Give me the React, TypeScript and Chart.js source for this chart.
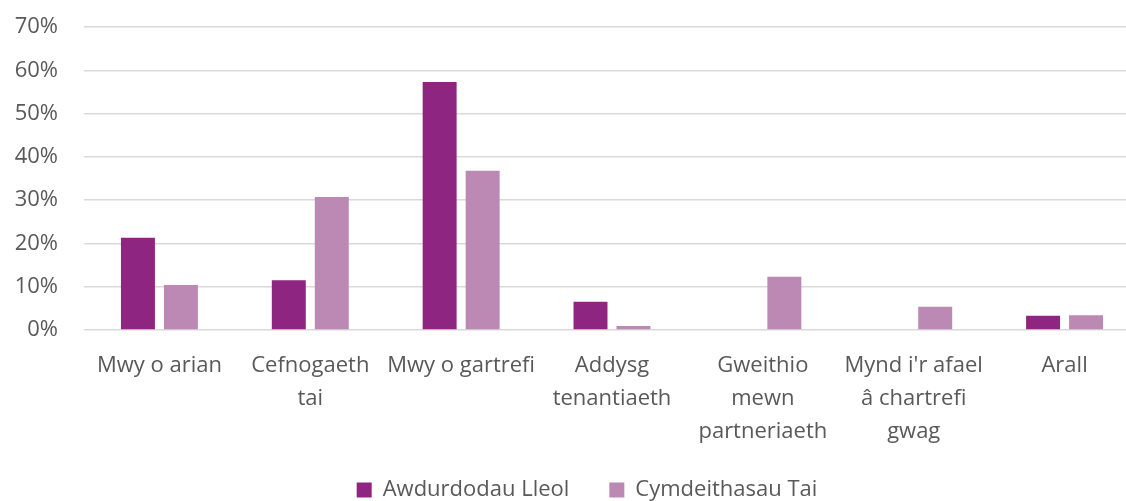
import React, { useEffect, useRef } from "react";
import { Chart, registerables } from "chart.js";

Chart.register(...registerables);

const categories: (string | string[])[] = [
  "Mwy o arian",
  ["Cefnogaeth", "tai"],
  "Mwy o gartrefi",
  ["Addysg", "tenantiaeth"],
  ["Gweithio", "mewn", "partneriaeth"],
  ["Mynd i'r afael", "â chartrefi", "gwag"],
  "Arall",
];

const awdurdodauLleol = [21.3, 11.5, 57.3, 6.5, 0, 0, 3.3];
const cymdeithasauTai = [10.4, 30.7, 36.8, 0.9, 12.3, 5.4, 3.4];

const seriesNames = ["Awdurdodau Lleol", "Cymdeithasau Tai"];
const yTicks = [0, 10, 20, 30, 40, 50, 60, 70];

const FONT = "'Open Sans', sans-serif";
const TEXT = "#595959";

const legendShift = {
  id: "legendShift",
  afterLayout(chart: any) {
    const lg = chart.legend;
    if (!lg) return;
    const h = lg.height;
    lg.top = 439;
    lg.bottom = 439 + h;
    lg.left += 17;
    lg.right += 17;
  },
};

export default function App() {
  const ref = useRef<HTMLCanvasElement | null>(null);

  useEffect(() => {
    if (!ref.current) return;
    const chart = new Chart(ref.current, {
      type: "bar",
      data: {
        labels: categories,
        datasets: [
          {
            label: seriesNames[0],
            data: awdurdodauLleol,
            backgroundColor: "#8E2580",
            borderWidth: 0,
            categoryPercentage: 0.57,
            barPercentage: 0.79,
          },
          {
            label: seriesNames[1],
            data: cymdeithasauTai,
            backgroundColor: "#BC88B4",
            borderWidth: 0,
            categoryPercentage: 0.57,
            barPercentage: 0.79,
          },
        ],
      },
      plugins: [legendShift],
      options: {
        responsive: false,
        animation: false,
        layout: { padding: { top: 27, left: 0, right: 0, bottom: 0 } },
        plugins: {
          tooltip: { enabled: false },
          legend: {
            position: "bottom",
            labels: {
              boxWidth: 15,
              boxHeight: 15,
              padding: 40,
              color: TEXT,
              font: { family: FONT, size: 22 },
            },
          },
        },
        scales: {
          x: {
            grid: { display: false, drawTicks: false },
            border: { display: false },
            ticks: {
              color: TEXT,
              padding: 19,
              maxRotation: 0,
              autoSkip: false,
              font: { family: FONT, size: 22, lineHeight: 1.5 },
            },
            afterFit: (scale: any) => {
              scale.height = 140;
            },
          },
          y: {
            min: 0,
            max: 70,
            afterBuildTicks: (scale: any) => {
              scale.ticks = yTicks.map((v) => ({ value: v }));
            },
            grid: { color: "#D9D9D9", lineWidth: 1.5, drawTicks: false },
            border: { display: false },
            ticks: {
              color: TEXT,
              padding: 26,
              font: { family: FONT, size: 22 },
              callback: (v: any) => v + "%",
            },
            afterFit: (scale: any) => {
              scale.width = 84;
              scale.paddingTop = 0;
              scale.paddingBottom = 0;
            },
          },
        },
      },
    });
    return () => chart.destroy();
  }, []);

  return (
    <div
      style={{
        position: "fixed",
        left: 0,
        top: 0,
        width: 1126,
        height: 501,
        overflow: "hidden",
        background: "#fff",
      }}
    >
      <canvas ref={ref} width={1140} height={542} style={{ display: "block" }} />
    </div>
  );
}
